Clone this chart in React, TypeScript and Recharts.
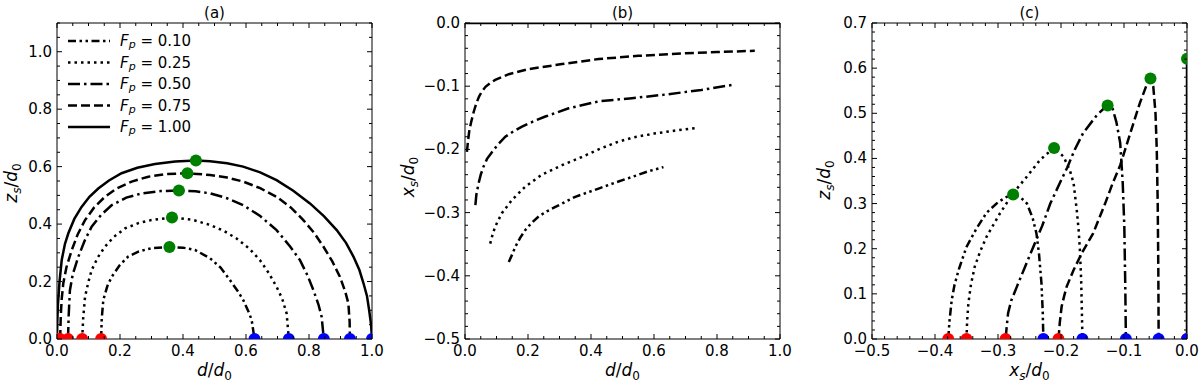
import React from "react"
import { ComposedChart, Line, Scatter, XAxis, YAxis } from "recharts"

// panel (a): z_s/d_0 against d/d_0, one pair per F_p
const a10d = [0.14, 0.142, 0.147, 0.16, 0.174, 0.2, 0.226, 0.26, 0.3, 0.357, 0.4, 0.438, 0.486, 0.52, 0.549, 0.575, 0.591, 0.61, 0.618, 0.627]
const a10z = [0, 0.07, 0.136, 0.185, 0.217, 0.258, 0.287, 0.305, 0.316, 0.32, 0.318, 0.31, 0.281, 0.248, 0.205, 0.165, 0.136, 0.09, 0.066, 0]
const a25d = [0.08, 0.083, 0.089, 0.1, 0.11, 0.13, 0.152, 0.18, 0.216, 0.26, 0.3, 0.365, 0.43, 0.486, 0.53, 0.57, 0.61, 0.644, 0.672, 0.697, 0.715, 0.729, 0.736]
const a25z = [0, 0.07, 0.147, 0.2, 0.24, 0.285, 0.321, 0.355, 0.385, 0.404, 0.414, 0.423, 0.415, 0.397, 0.376, 0.35, 0.315, 0.275, 0.23, 0.182, 0.14, 0.089, 0]
const a50d = [0.035, 0.037, 0.041, 0.05, 0.068, 0.088, 0.11, 0.14, 0.174, 0.22, 0.269, 0.33, 0.387, 0.44, 0.486, 0.54, 0.591, 0.645, 0.697, 0.74, 0.771, 0.795, 0.814, 0.83, 0.84, 0.847]
const a50z = [0, 0.08, 0.17, 0.225, 0.287, 0.343, 0.391, 0.432, 0.466, 0.492, 0.507, 0.515, 0.517, 0.514, 0.507, 0.49, 0.466, 0.428, 0.379, 0.322, 0.275, 0.222, 0.17, 0.12, 0.078, 0]
const a75d = [0.01, 0.012, 0.015, 0.02, 0.03, 0.047, 0.066, 0.089, 0.118, 0.152, 0.19, 0.237, 0.29, 0.343, 0.414, 0.486, 0.54, 0.591, 0.645, 0.697, 0.742, 0.782, 0.816, 0.846, 0.874, 0.898, 0.915, 0.925, 0.929, 0.93]
const a75z = [0, 0.08, 0.14, 0.194, 0.25, 0.31, 0.365, 0.414, 0.458, 0.495, 0.524, 0.548, 0.565, 0.574, 0.577, 0.571, 0.562, 0.548, 0.525, 0.495, 0.458, 0.414, 0.37, 0.321, 0.27, 0.217, 0.165, 0.124, 0.06, 0]
const a100d = [0, 0.001, 0.003, 0.008, 0.015, 0.025, 0.036, 0.055, 0.078, 0.103, 0.131, 0.165, 0.205, 0.255, 0.311, 0.375, 0.441, 0.486, 0.54, 0.591, 0.645, 0.697, 0.75, 0.803, 0.848, 0.888, 0.918, 0.941, 0.96, 0.973, 0.984, 0.991, 0.997, 1.0]
const a100z = [0, 0.06, 0.12, 0.2, 0.275, 0.33, 0.368, 0.418, 0.46, 0.495, 0.524, 0.552, 0.577, 0.596, 0.609, 0.618, 0.621, 0.619, 0.612, 0.6, 0.58, 0.553, 0.516, 0.472, 0.427, 0.379, 0.334, 0.287, 0.24, 0.194, 0.15, 0.1, 0.05, 0]

// panel (b): x_s/d_0 against d/d_0
const b10d = [0.139, 0.15, 0.16, 0.175, 0.191, 0.21, 0.234, 0.26, 0.287, 0.35, 0.424, 0.48, 0.534, 0.58, 0.63]
const b10x = [-0.378, -0.366, -0.354, -0.34, -0.328, -0.317, -0.306, -0.298, -0.291, -0.275, -0.262, -0.252, -0.243, -0.235, -0.228]
const b25d = [0.08, 0.088, 0.096, 0.117, 0.149, 0.191, 0.244, 0.308, 0.371, 0.424, 0.48, 0.534, 0.6, 0.67, 0.735]
const b25x = [-0.349, -0.334, -0.322, -0.301, -0.28, -0.259, -0.24, -0.225, -0.212, -0.2, -0.189, -0.181, -0.175, -0.17, -0.166]
const b50d = [0.033, 0.036, 0.043, 0.05, 0.059, 0.07, 0.086, 0.105, 0.128, 0.155, 0.181, 0.22, 0.255, 0.329, 0.424, 0.53, 0.64, 0.75, 0.847]
const b50x = [-0.288, -0.272, -0.254, -0.24, -0.227, -0.215, -0.204, -0.192, -0.18, -0.171, -0.164, -0.155, -0.148, -0.135, -0.124, -0.119, -0.113, -0.106, -0.098]
const b75d = [0.006, 0.01, 0.014, 0.02, 0.028, 0.036, 0.045, 0.054, 0.065, 0.08, 0.096, 0.139, 0.202, 0.308, 0.424, 0.55, 0.7, 0.8, 0.92]
const b75x = [-0.204, -0.185, -0.169, -0.156, -0.14, -0.127, -0.116, -0.108, -0.101, -0.095, -0.09, -0.081, -0.073, -0.065, -0.057, -0.052, -0.048, -0.046, -0.044]
const b100d = [0, 1]
const b100x = [0, 0]

// panel (c): z_s/d_0 against x_s/d_0
const c10x = [-0.379, -0.377, -0.3735, -0.369, -0.362, -0.35, -0.334, -0.318, -0.3, -0.286, -0.276, -0.265, -0.254, -0.245, -0.239, -0.235, -0.231, -0.229, -0.228]
const c10z = [0, 0.04, 0.086, 0.12, 0.155, 0.204, 0.245, 0.28, 0.303, 0.315, 0.32, 0.315, 0.3, 0.268, 0.234, 0.19, 0.123, 0.06, 0]
const c25x = [-0.35, -0.349, -0.347, -0.343, -0.337, -0.328, -0.318, -0.297, -0.276, -0.254, -0.233, -0.211, -0.196, -0.186, -0.18, -0.175, -0.172, -0.17, -0.168, -0.167, -0.166]
const c25z = [0, 0.04, 0.079, 0.12, 0.16, 0.195, 0.227, 0.278, 0.323, 0.36, 0.397, 0.424, 0.404, 0.374, 0.345, 0.286, 0.241, 0.197, 0.131, 0.07, 0]
const c50x = [-0.288, -0.286, -0.284, -0.279, -0.27, -0.257, -0.244, -0.23, -0.217, -0.2, -0.19, -0.178, -0.165, -0.143, -0.127, -0.118, -0.112, -0.106, -0.102, -0.0995, -0.098, -0.097]
const c50z = [0, 0.03, 0.057, 0.085, 0.116, 0.16, 0.204, 0.25, 0.3, 0.351, 0.38, 0.42, 0.456, 0.496, 0.517, 0.51, 0.48, 0.434, 0.345, 0.25, 0.12, 0]
const c75x = [-0.204, -0.202, -0.199, -0.195, -0.191, -0.18, -0.167, -0.149, -0.13, -0.118, -0.106, -0.09, -0.075, -0.064, -0.058, -0.0535, -0.05, -0.048, -0.0465, -0.0455, -0.045]
const c75z = [0, 0.035, 0.072, 0.095, 0.116, 0.153, 0.19, 0.234, 0.3, 0.345, 0.385, 0.456, 0.522, 0.563, 0.577, 0.559, 0.5, 0.42, 0.3, 0.15, 0]
const c100x = [0, 0]
const c100z = [0, 0.621]

// start (red), end (blue) and top (green) points
const startD = [0.14, 0.08, 0.035, 0.01, 0]
const endD = [0.627, 0.736, 0.847, 0.93, 1.0]
const peakD = [0.357, 0.365, 0.387, 0.414, 0.441]
const peakZ = [0.32, 0.423, 0.517, 0.577, 0.621]
const startX = [-0.379, -0.35, -0.288, -0.204, 0]
const endX = [-0.228, -0.166, -0.097, -0.045, 0]
const peakX = [-0.276, -0.211, -0.126, -0.058, 0]

const fpLabels = ["0.10", "0.25", "0.50", "0.75", "1.00"]

// axis ticks
const dTicks = [0, 0.2, 0.4, 0.6, 0.8, 1.0]
const aZTicks = [0, 0.2, 0.4, 0.6, 0.8, 1.0]
const bXTicks = [-0.5, -0.4, -0.3, -0.2, -0.1, 0]
const cXTicks = [-0.5, -0.4, -0.3, -0.2, -0.1, 0]
const cZTicks = [0, 0.1, 0.2, 0.3, 0.4, 0.5, 0.6, 0.7]

const dashes = ["8 3.5 2.5 3.5 2.5 3.5", "2.5 4", "12 4 2.5 4", "9 4", undefined]
const FONT = "DejaVu Sans, sans-serif"
const PLOT_W = 315
const TOP = 23
const BOTTOM = 339

type Pt = { x: number; y: number }
const toPts = (xs: number[], ys: number[]): Pt[] => xs.map((v, i) => ({ x: v, y: ys[i] }))
const onAxis = (xs: number[]): Pt[] => xs.map((v) => ({ x: v, y: 0 }))

function minorTicks(lo: number, hi: number, step: number) {
  const n = Math.round((hi - lo) / step)
  return Array.from({ length: n + 1 }, (_, i) => Math.round((lo + i * step) * 1000) / 1000)
}

const fmt = (v: number) => (v < -1e-9 ? "\u2212" : "") + Math.abs(v).toFixed(1)

function Tick(props: any) {
  const { x, y, payload, side, major, showLabel } = props
  const v = payload.value
  const isMajor = major.some((m: number) => Math.abs(m - v) < 1e-6)
  const len = isMajor ? 5 : 3
  const txt = { fontSize: 15, fontFamily: FONT, fill: "#000" }
  if (side === "bottom") {
    return (
      <g>
        <line x1={x} x2={x} y1={y} y2={y - len} stroke="#000" />
        {isMajor && showLabel && <text x={x} y={y + 17} textAnchor="middle" {...txt}>{fmt(v)}</text>}
      </g>
    )
  }
  if (side === "top") return <line x1={x} x2={x} y1={y} y2={y + len} stroke="#000" />
  if (side === "left") {
    return (
      <g>
        <line x1={x} x2={x + len} y1={y} y2={y} stroke="#000" />
        {isMajor && showLabel && <text x={x - 5} y={y} textAnchor="end" dominantBaseline="central" {...txt}>{fmt(v)}</text>}
      </g>
    )
  }
  return <line x1={x} x2={x - len} y1={y} y2={y} stroke="#000" />
}

type PanelProps = {
  plotLeft: number
  xDomain: [number, number]
  yDomain: [number, number]
  xMajor: number[]
  yMajor: number[]
  xStep: number
  yStep: number
  lines: { data: Pt[]; dash?: string }[]
  markers: { data: Pt[]; color: string }[]
}

function Panel({ plotLeft, xDomain, yDomain, xMajor, yMajor, xStep, yStep, lines, markers }: PanelProps) {
  const xt = minorTicks(xDomain[0], xDomain[1], xStep)
  const yt = minorTicks(yDomain[0], yDomain[1], yStep)
  const common = { type: "number" as const, allowDataOverflow: true, interval: 0 as const, tickSize: 0, tickMargin: 0, tickLine: false, axisLine: { stroke: "#000" } }
  return (
    <div style={{ position: "absolute", left: plotLeft - 50, top: 0 }}>
      <ComposedChart width={PLOT_W + 63} height={386} margin={{ top: TOP - 1, right: 12, bottom: 0, left: 0 }}>
        <XAxis {...common} dataKey="x" domain={xDomain} ticks={xt} height={386 - BOTTOM}
          tick={(p: any) => <Tick {...p} side="bottom" major={xMajor} showLabel />} />
        <XAxis {...common} xAxisId="top" orientation="top" dataKey="x" domain={xDomain} ticks={xt} height={1}
          tick={(p: any) => <Tick {...p} side="top" major={xMajor} />} />
        <YAxis {...common} dataKey="y" domain={yDomain} ticks={yt} width={50}
          tick={(p: any) => <Tick {...p} side="left" major={yMajor} showLabel />} />
        <YAxis {...common} yAxisId="right" orientation="right" dataKey="y" domain={yDomain} ticks={yt} width={1}
          tick={(p: any) => <Tick {...p} side="right" major={yMajor} />} />
        {lines.map((l, i) => (
          <Line key={"l" + i} data={l.data} dataKey="y" stroke="#000" strokeWidth={2.5} strokeDasharray={l.dash}
            dot={false} activeDot={false} isAnimationActive={false} />
        ))}
        {markers.map((m, i) => (
          <Scatter key={"m" + i} data={m.data} dataKey="y" isAnimationActive={false}
            shape={(p: any) => <circle cx={p.cx} cy={p.cy} r={6} fill={m.color} />} />
        ))}
      </ComposedChart>
    </div>
  )
}

function Frac({ sym, sub }: { sym: string; sub: string }) {
  return (
    <>
      <tspan fontStyle="italic">{sym}</tspan>
      <tspan fontStyle="italic" fontSize={12} dy={4}>{sub}</tspan>
      <tspan dy={-4}>/</tspan>
      <tspan fontStyle="italic">d</tspan>
      <tspan fontSize={12} dy={4}>0</tspan>
    </>
  )
}

function Overlay() {
  const centers = [57 + PLOT_W / 2, 465 + PLOT_W / 2, 872 + PLOT_W / 2]
  const lab = { fontSize: 17, fontFamily: FONT, fill: "#000" }
  return (
    <svg width={1200} height={386} style={{ position: "absolute", left: 0, top: 0, pointerEvents: "none" }}>
      {["(a)", "(b)", "(c)"].map((t, i) => (
        <text key={t} x={centers[i]} y={18} textAnchor="middle" fontSize={15} fontFamily={FONT}>{t}</text>
      ))}
      <text x={centers[0]} y={376} textAnchor="middle" {...lab}>
        <tspan fontStyle="italic">d</tspan><tspan>/</tspan><tspan fontStyle="italic">d</tspan><tspan fontSize={12} dy={4}>0</tspan>
      </text>
      <text x={centers[1]} y={376} textAnchor="middle" {...lab}>
        <tspan fontStyle="italic">d</tspan><tspan>/</tspan><tspan fontStyle="italic">d</tspan><tspan fontSize={12} dy={4}>0</tspan>
      </text>
      <text x={centers[2]} y={376} textAnchor="middle" {...lab}><Frac sym="x" sub="s" /></text>
      <text transform="translate(17,183) rotate(-90)" textAnchor="middle" {...lab}><Frac sym="z" sub="s" /></text>
      <text transform="translate(414,177) rotate(-90)" textAnchor="middle" {...lab}><Frac sym="x" sub="s" /></text>
      <text transform="translate(830,180) rotate(-90)" textAnchor="middle" {...lab}><Frac sym="z" sub="s" /></text>
      {fpLabels.map((f, i) => {
        const y = 41 + i * 21.5
        return (
          <g key={f}>
            <line x1={68} x2={110} y1={y} y2={y} stroke="#000" strokeWidth={2.5} strokeDasharray={dashes[i]} />
            <text x={120} y={y} dominantBaseline="central" fontSize={15} fontFamily={FONT}>
              <tspan fontStyle="italic">F</tspan>
              <tspan fontStyle="italic" fontSize={11} dy={3}>p</tspan>
              <tspan dy={-3}>{" = " + f}</tspan>
            </text>
          </g>
        )
      })}
    </svg>
  )
}

export default function App() {
  const aLines = [
    { data: toPts(a10d, a10z), dash: dashes[0] },
    { data: toPts(a25d, a25z), dash: dashes[1] },
    { data: toPts(a50d, a50z), dash: dashes[2] },
    { data: toPts(a75d, a75z), dash: dashes[3] },
    { data: toPts(a100d, a100z) },
  ]
  const bLines = [
    { data: toPts(b10d, b10x), dash: dashes[0] },
    { data: toPts(b25d, b25x), dash: dashes[1] },
    { data: toPts(b50d, b50x), dash: dashes[2] },
    { data: toPts(b75d, b75x), dash: dashes[3] },
    { data: toPts(b100d, b100x) },
  ]
  const cLines = [
    { data: toPts(c10x, c10z), dash: dashes[0] },
    { data: toPts(c25x, c25z), dash: dashes[1] },
    { data: toPts(c50x, c50z), dash: dashes[2] },
    { data: toPts(c75x, c75z), dash: dashes[3] },
    { data: toPts(c100x, c100z) },
  ]
  return (
    <div style={{ position: "absolute", left: 0, top: 0, width: 1200, height: 386, background: "#fff" }}>
      <Panel plotLeft={57} xDomain={[0, 1]} yDomain={[0, 1.1]} xMajor={dTicks} yMajor={aZTicks} xStep={0.05} yStep={0.05}
        lines={aLines}
        markers={[
          { data: onAxis(startD), color: "#ff0000" },
          { data: onAxis(endD), color: "#0000ff" },
          { data: toPts(peakD, peakZ), color: "#008000" },
        ]} />
      <Panel plotLeft={465} xDomain={[0, 1]} yDomain={[-0.5, 0]} xMajor={dTicks} yMajor={bXTicks} xStep={0.05} yStep={0.02}
        lines={bLines} markers={[]} />
      <Panel plotLeft={872} xDomain={[-0.5, 0]} yDomain={[0, 0.7]} xMajor={cXTicks} yMajor={cZTicks} xStep={0.02} yStep={0.02}
        lines={cLines}
        markers={[
          { data: onAxis(startX), color: "#ff0000" },
          { data: onAxis(endX), color: "#0000ff" },
          { data: toPts(peakX, peakZ), color: "#008000" },
        ]} />
      <Overlay />
    </div>
  )
}
